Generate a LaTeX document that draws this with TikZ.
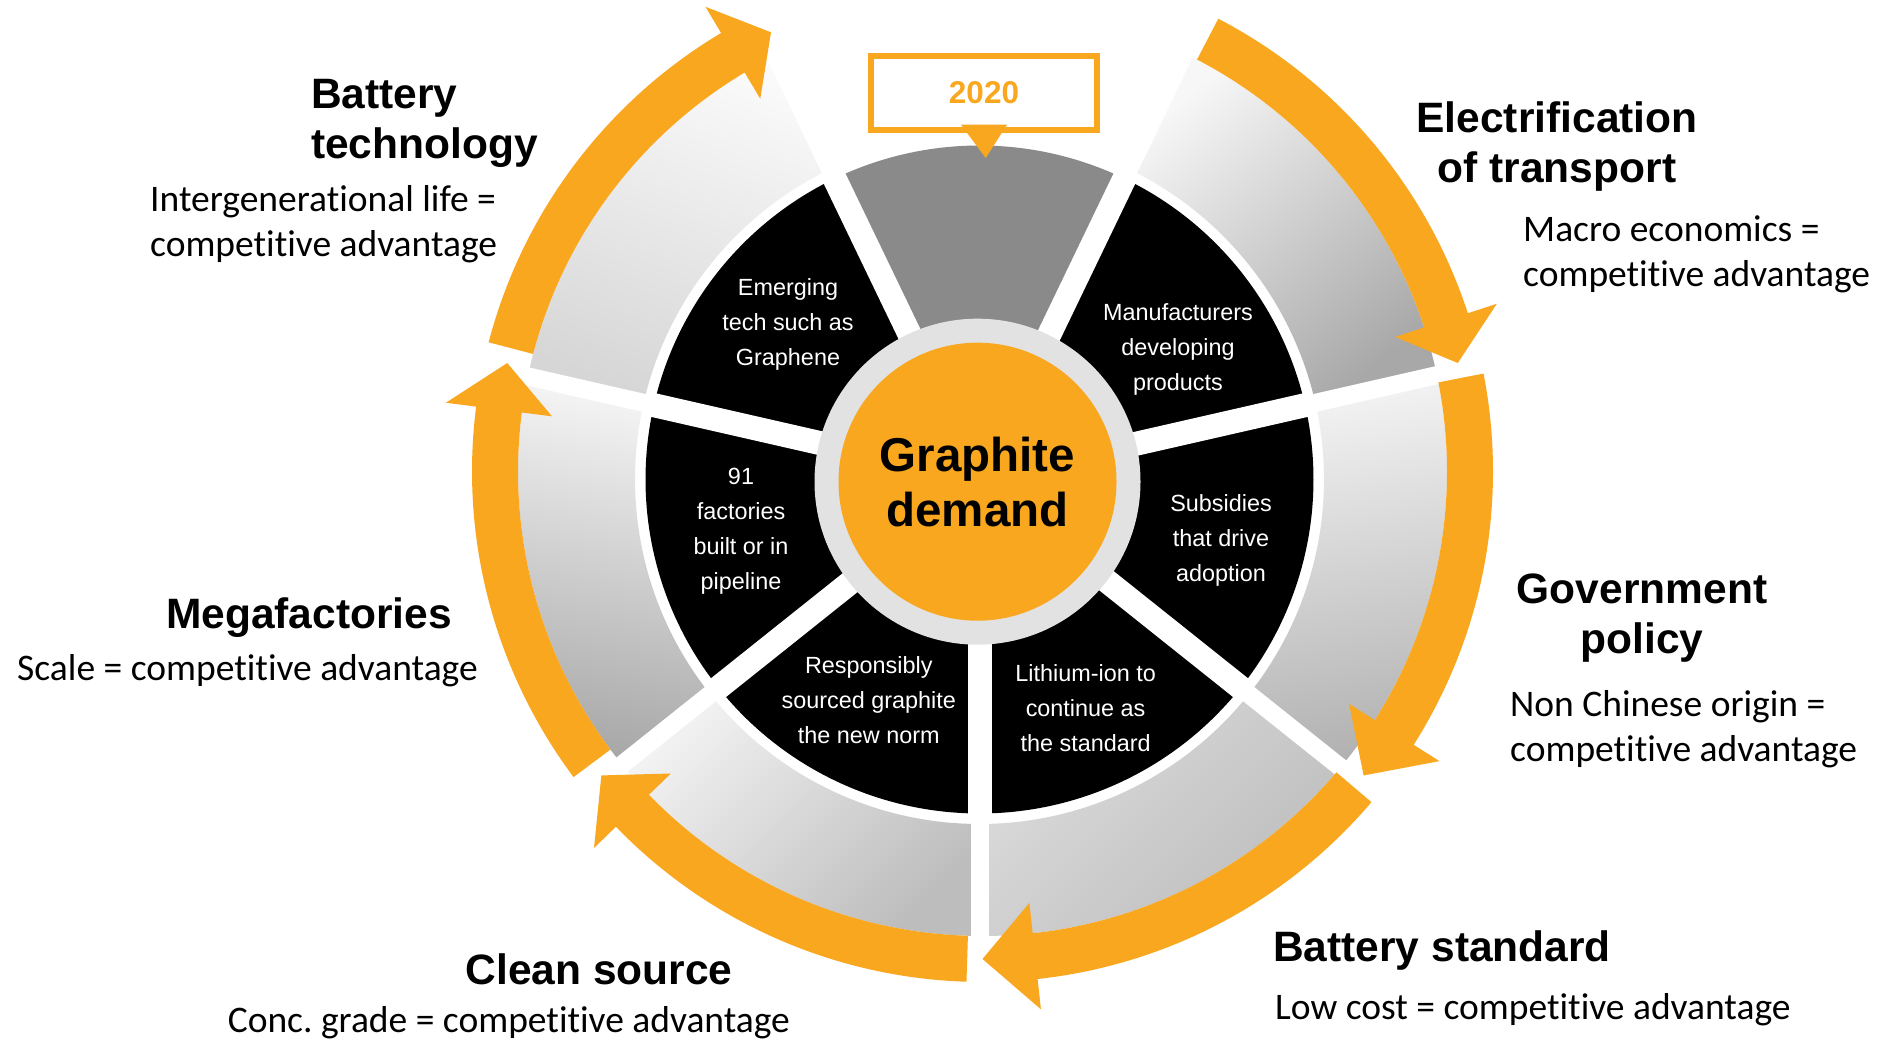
\documentclass[tikz,border=0pt]{standalone}
\usepackage{fontspec}
\setmainfont{Liberation Sans}
\newfontfamily\calfont[Ligatures=NoCommon]{Carlito}
\usetikzlibrary{calc}
\frenchspacing
\definecolor{gorange}{HTML}{F8A71E}
\definecolor{ringgray}{HTML}{E2E2E2}
\definecolor{topgray}{HTML}{8A8A8A}
% orange curved arrow: tail angle, head-base angle, tip angle (centre A)
\newcommand\oarrow[3]{%
  \fill[gorange] ($(A)+(#1:510.5pt)$) arc[start angle=#1, end angle=#2, radius=510.5pt]
    -- ($(A)+(#2:541pt)$) -- ($(A)+(#3:487.5pt)$) -- ($(A)+(#2:434pt)$)
    -- ($(A)+(#2:464.5pt)$) arc[start angle=#2, end angle=#1, radius=464.5pt] -- cycle;}
% outer grey sector: lo, hi, shading options
\newcommand\graysec[3]{%
  \shade[#3] ($(O)+(#2:344.5pt)$) arc[start angle=#2, end angle=#1, radius=344.5pt]
    -- ($(A)+(#1:464.5pt)$) arc[start angle=#1, end angle=#2, radius=464.5pt] -- cycle;}
% inner pie sector: lo, hi, colour
\newcommand\piesec[3]{%
  \fill[#3] (O) -- ($(O)+(#1:334pt)$) arc[start angle=#1, end angle=#2, radius=334pt] -- cycle;}
\begin{document}
\begin{tikzpicture}[x=1pt,y=1pt,
  gshade/.style n args={3}{top color=#1, bottom color=#2, shading angle=#3},
  lbl/.style={font=\fontsize{42.5}{50}\selectfont\bfseries, inner sep=0pt},
  sub/.style={font=\calfont\fontsize{37.5}{45}\selectfont, inner sep=0pt, align=left, anchor=base west},
  seg/.style={font=\fontsize{23.4}{35}\selectfont, text=white, inner sep=0pt, align=center, anchor=base}]
\useasboundingbox (0,0) rectangle (1898,1043);
\fill[white] (0,0) rectangle (1898,1043);
\coordinate (O) at (979.5,563.5);
\coordinate (D) at (977.5,561.3);
\coordinate (A) at (982.5,571.5);

% outer grey ring
\graysec{12.8571}{64.2857}{gshade={black!3}{black!34}{40}}        % electrification
\graysec{-38.5714}{12.8571}{gshade={black!4}{black!30}{10}}       % government
\graysec{-90}{-38.5714}{gshade={black!14}{black!26}{45}}          % battery standard
\graysec{-141.4286}{-90}{gshade={black!5}{black!26}{45}}          % clean source
\graysec{167.1429}{218.5714}{gshade={black!3}{black!34}{-10}}     % megafactories
\graysec{115.7143}{167.1429}{gshade={black!2}{black!16}{-20}}     % battery technology

% inner sectors
\piesec{64.2857}{115.7143}{topgray}
\piesec{12.8571}{64.2857}{black}
\piesec{-38.5714}{12.8571}{black}
\piesec{-90}{-38.5714}{black}
\piesec{-141.4286}{-90}{black}
\piesec{167.1429}{218.5714}{black}
\piesec{115.7143}{167.1429}{black}

% gaps
\foreach \a in {64.2857,12.8571,-38.5714,-90,-141.4286,167.1429,115.7143}{
  \draw[white, line width=24pt] (O) -- ($(O)+(\a:338pt)$);
  \draw[white, line width=18pt] ($(O)+(\a:336pt)$) -- ($(O)+(\a:530pt)$);
}

% orange arrows (clockwise)
\oarrow{62.49}{18.06}{12.8571}
\oarrow{11.06}{-32.37}{-38.5714}
\oarrow{-40.37}{-83.8}{-90}
\oarrow{-91.8}{-135.9}{-141.4286}
\oarrow{216.77}{172.7}{167.1429}
\oarrow{165.34}{120.8}{115.7143}

% centre
\fill[ringgray] (D) circle[radius=163pt];
\node[circle, fill=gorange, minimum size=278pt, inner sep=0pt, align=center,
  font=\fontsize{47.5}{55.3}\selectfont\bfseries] (gd) at (D) {Graphite\\demand};

% segment texts (anchor = baseline of last line)
\node[seg] (segemerg) at (788,677) {Emerging\\tech such as\\Graphene};
\node[seg] (segmanu) at (1178,652.3) {Manufacturers\\developing\\products};
\node[seg] (segsubs) at (1221,461) {Subsidies\\that drive\\adoption};
\node[seg] (seglith) at (1085.6,291.3) {Lithium-ion to\\continue as\\the standard};
\node[seg] (segresp) at (868.8,299.7) {Responsibly\\sourced graphite\\the new norm};
\node[seg] (seg91) at (741,453.7) {91\\factories\\built or in\\pipeline};

% 2020 marker
\node[draw=gorange, line width=6pt, minimum width=226pt, minimum height=74pt, inner sep=0pt,
  text=gorange, font=\fontsize{31.5}{36}\selectfont\bfseries] (yr) at (984,950) {2020};
\fill[gorange] ($(yr.south)+(-23,8.3)$) -- ($(yr.south)+(23,8.3)$) -- ($(yr.south)+(1.7,-25)$) -- cycle;

% outer labels (anchor = baseline of last line)
\node[lbl, anchor=base west, align=left] (bt) at (311,884.7) {Battery\\technology};
\node[sub] (btsub) at (150,786.5) {Intergenerational life =\\competitive advantage};
\node[lbl, anchor=base, align=center] (el) at (1557,860.3) {Electrification\\of transport};
\node[sub] (elsub) at (1523,756) {Macro economics =\\competitive advantage};
\node[lbl, anchor=base, align=center] (gov) at (1642,389.7) {Government\\policy};
\node[sub] (govsub) at (1510,281) {Non Chinese origin =\\competitive advantage};
\node[lbl, anchor=base] (mf) at (309,414.7) {Megafactories};
\node[sub] (mfsub) at (17,362.7) {Scale = competitive advantage};
\node[lbl, anchor=base] (cs) at (599,58.5) {Clean source};
\node[sub] (cssub) at (227.6,10) {Conc. grade = competitive advantage};
\node[lbl, anchor=base west] (bs) at (1273,81.5) {Battery standard};
\node[sub] (bssub) at (1275,23.5) {Low cost = competitive advantage};
\end{tikzpicture}
\end{document}
